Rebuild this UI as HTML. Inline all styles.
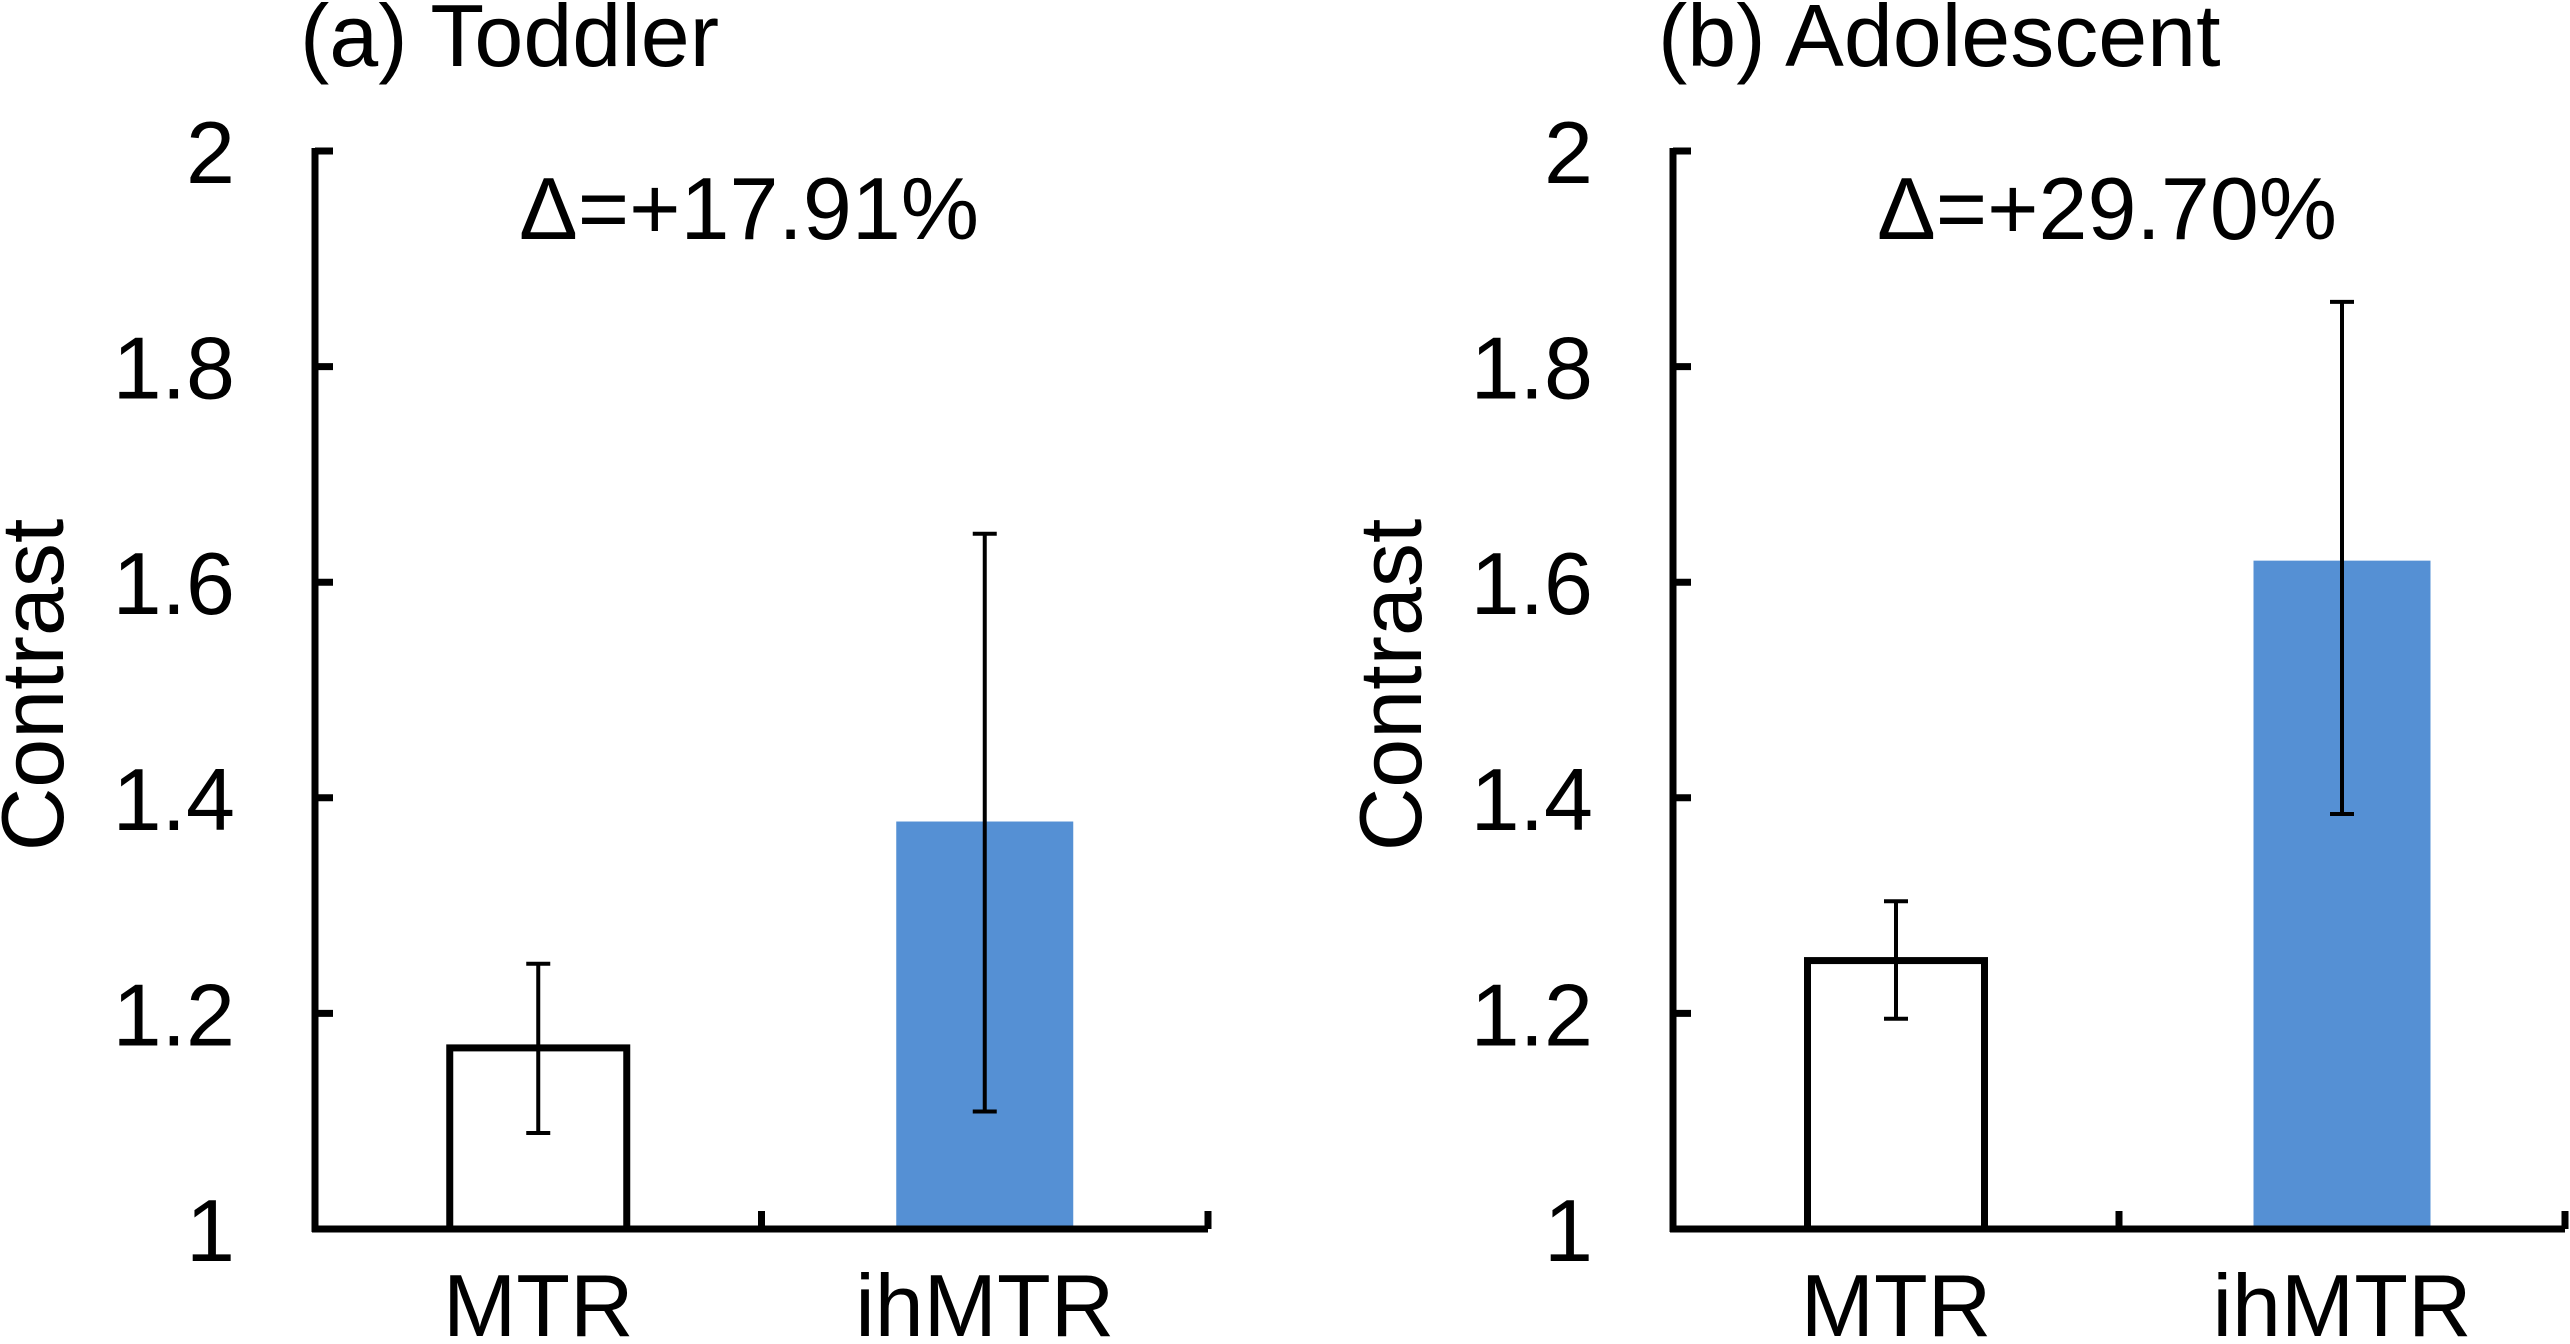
<!DOCTYPE html>
<html><head><meta charset="utf-8"><style>
html,body{margin:0;padding:0;background:#fff;}
svg{display:block;font-family:"Liberation Sans",Arial,sans-serif;}
</style></head><body>
<svg id="chart" width="2570" height="1344" viewBox="0 0 2570 1344" xmlns="http://www.w3.org/2000/svg"></svg>
<script>
const categories = ["MTR", "ihMTR"];
const panelTitles = ["(a) Toddler", "(b) Adolescent"];
const annotations = ["Δ=+17.91%", "Δ=+29.70%"];
const toddlerMeans = [1.168, 1.378];
const toddlerLow = [1.089, 1.109];
const toddlerHigh = [1.246, 1.645];
const adolescentMeans = [1.249, 1.620];
const adolescentLow = [1.195, 1.385];
const adolescentHigh = [1.304, 1.860];
const yTicks = [1, 1.2, 1.4, 1.6, 1.8, 2];
const yTickLabels = ["1", "1.2", "1.4", "1.6", "1.8", "2"];

const NS = "http://www.w3.org/2000/svg";
const svg = document.getElementById("chart");
function mk(tag, attrs, parent) {
  const e = document.createElementNS(NS, tag);
  for (const k in attrs) e.setAttribute(k, attrs[k]);
  (parent || svg).appendChild(e);
  return e;
}
const panels = [
  {x0: 315, x1: 1208, means: toddlerMeans, lo: toddlerLow, hi: toddlerHigh, name: "toddler"},
  {x0: 1673, x1: 2565, means: adolescentMeans, lo: adolescentLow, hi: adolescentHigh, name: "adolescent"}
];
const yTop = 151, yBot = 1229, yMin = 1, yMax = 2;
const FS = 88;
function yScale(v) { return yBot - (v - yMin) / (yMax - yMin) * (yBot - yTop); }

panels.forEach((p, pi) => {
  const g = mk("g", {});
  
  
  const bandW = (p.x1 - p.x0) / categories.length;
  const xCenter = i => p.x0 + bandW * (i + 0.5);
  const barW = 177;

  p.means.forEach((m, i) => {
    const r = mk("rect", {x: xCenter(i) - barW/2, y: yScale(m), width: barW, height: yBot - yScale(m),
      fill: i === 0 ? "#fff" : "#5590d4", stroke: i === 0 ? "#000" : "none", "stroke-width": 7}, g);
    
    
  });
  p.means.forEach((m, i) => {
    const eg = mk("g", {stroke: "#000", "stroke-width": 4}, g);
    
    
    const cx = xCenter(i);
    mk("line", {x1: cx, x2: cx, y1: yScale(p.hi[i]), y2: yScale(p.lo[i])}, eg);
    mk("line", {x1: cx - 12, x2: cx + 12, y1: yScale(p.hi[i]), y2: yScale(p.hi[i])}, eg);
    mk("line", {x1: cx - 12, x2: cx + 12, y1: yScale(p.lo[i]), y2: yScale(p.lo[i])}, eg);
  });
  const ax = mk("g", {stroke: "#000", "stroke-width": 7, fill: "none"}, g);
  
  
  mk("line", {x1: p.x0, x2: p.x0, y1: yTop - 3, y2: yBot + 3}, ax);
  mk("line", {x1: p.x0 - 3, x2: p.x1, y1: yBot, y2: yBot}, ax);
  yTicks.forEach(t => mk("line", {x1: p.x0, x2: p.x0 + 18, y1: yScale(t), y2: yScale(t)}, ax));
  for (let i = 1; i <= categories.length; i++) {
    const x = p.x0 + bandW * i;
    mk("line", {x1: x, x2: x, y1: yBot, y2: yBot - 18}, ax);
  }
  yTicks.forEach((t, i) => {
    const tx = mk("text", {x: p.x0 - 80, y: yScale(t) + 32, "text-anchor": "end", "font-size": FS}, g);
    tx.textContent = yTickLabels[i];
    
    
  });
  categories.forEach((c, i) => {
    const tx = mk("text", {x: xCenter(i), y: 1336, "text-anchor": "middle", "font-size": FS}, g);
    tx.textContent = c;
    
    
  });
  const yt = mk("text", {x: 0, y: 0, transform: `translate(${p.x0 - 252},685) rotate(-90)`, "text-anchor": "middle", "font-size": FS}, g);
  yt.textContent = "Contrast";
  
  
  const tt = mk("text", {x: p.x0 - 15, y: 66, "font-size": FS}, g);
  tt.textContent = panelTitles[pi];
  
  
  const an = mk("text", {x: p.x0 + 434, y: 239, "text-anchor": "middle", "font-size": FS}, g);
  an.textContent = annotations[pi];
  
  
});
</script>
</body></html>
